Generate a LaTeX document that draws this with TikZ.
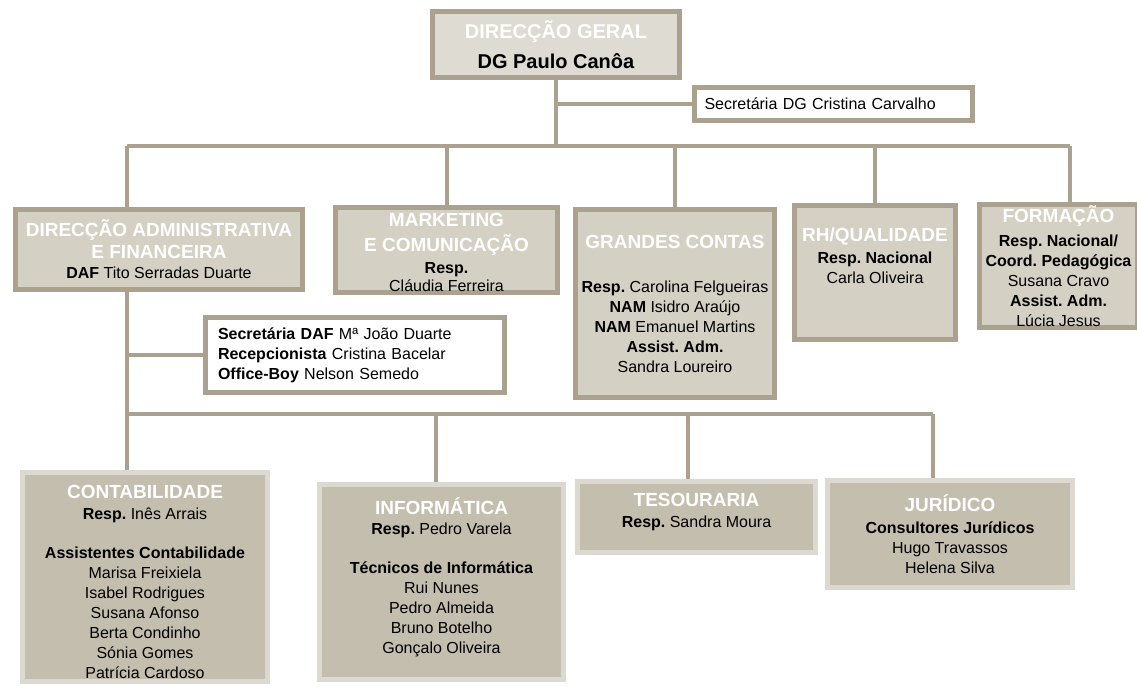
\documentclass[tikz,border=0pt]{standalone}
\usepackage{fontspec}
\setmainfont{Liberation Sans}
\usetikzlibrary{positioning}
\definecolor{linkgray}{HTML}{AAA28F}
\definecolor{topfill}{HTML}{DEDBD3}
\definecolor{deptfill}{HTML}{D4D0C4}
\definecolor{unitfill}{HTML}{C4BEAF}
\definecolor{unitline}{HTML}{DCD9D0}
\newcommand{\hd}[1]{{\fontsize{19}{23}\selectfont\bfseries\color{white}#1}}
\frenchspacing

\begin{document}
\begin{tikzpicture}[x=1pt, y=-1pt,
  every node/.style={font=\fontsize{16}{20}\selectfont, align=center, inner sep=0pt},
  topbox/.style={draw=linkgray, line width=5pt, fill=topfill},
  deptbox/.style={draw=linkgray, line width=5pt, fill=deptfill},
  secbox/.style={draw=linkgray, line width=5pt, fill=white, align=left},
  unitbox/.style={draw=unitline, line width=5pt, fill=unitfill},
  link/.style={draw=linkgray, line width=4pt}]
  \useasboundingbox (0,0) rectangle (1137,687);

  % direction
  \node (dg) [topbox, minimum width=247pt, minimum height=66pt,
    font=\fontsize{20}{27}\selectfont] at (556,44.5)
    {{\bfseries\color{white}DIRECÇÃO GERAL}\\[3pt] \textbf{DG Paulo Canôa}};
  \node (secdg) [secbox, minimum width=278pt, minimum height=33pt,
    text width=258pt] at (833.5,104) {Secretária DG Cristina Carvalho};

  % departments
  \node (daf) [deptbox, minimum width=287pt, minimum height=80pt] at (159,249.5)
    {\hd{DIRECÇÃO ADMINISTRATIVA}\\[2pt] \hd{E FINANCEIRA}\\ \textbf{DAF} Tito Serradas Duarte};
  \node (mkt) [deptbox, minimum width=222pt, minimum height=85pt] at (446.5,250) {};
  \node (mkttext) [below=8pt of mkt.north]
    {\hd{MARKETING}\\[5pt] \hd{E COMUNICAÇÃO}\\[2pt] \textbf{Resp.}\\[-2pt] Cláudia Ferreira};
  \node (gc) [deptbox, minimum width=199pt, minimum height=188pt] at (675,303.5)
    {\hd{GRANDES CONTAS}\\[24pt] \textbf{Resp.} Carolina Felgueiras\\ \textbf{NAM} Isidro Araújo\\
     \textbf{NAM} Emanuel Martins\\ \textbf{Assist. Adm.}\\ Sandra Loureiro};
  \node (rh) [deptbox, minimum width=161pt, minimum height=134pt] at (875,272.5) {};
  \node (rhtext) [below=25pt of rh.north]
    {\hd{RH/QUALIDADE}\\[2pt] \textbf{Resp. Nacional}\\ Carla Oliveira};
  \node (form) [deptbox, minimum width=158pt, minimum height=123pt] at (1058.5,266)
    {\hd{FORMAÇÃO}\\[4pt] \textbf{Resp. Nacional/}\\ \textbf{Coord. Pedagógica}\\ Susana Cravo\\
     \textbf{Assist. Adm.}\\ Lúcia Jesus};

  % DAF staff
  \node (secdaf) [secbox, minimum width=299pt, minimum height=75pt, text width=274pt] at (355,355)
    {\textbf{Secretária DAF} Mª João Duarte\\ \textbf{Recepcionista} Cristina Bacelar\\
     \textbf{Office-Boy} Nelson Semedo};

  % units
  \node (cont) [unitbox, minimum width=245pt, minimum height=209pt] at (145,577) {};
  \node (conttext) [below=15.5pt of cont.north]
    {\hd{CONTABILIDADE}\\[1pt] \textbf{Resp.} Inês Arrais\\[19pt] \textbf{Assistentes Contabilidade}\\
     Marisa Freixiela\\ Isabel Rodrigues\\ Susana Afonso\\ Berta Condinho\\ Sónia Gomes\\ Patrícia Cardoso};
  \node (inf) [unitbox, minimum width=244pt, minimum height=195pt] at (441.5,582) {};
  \node (inftext) [below=15.5pt of inf.north]
    {\hd{INFORMÁTICA}\\ \textbf{Resp.} Pedro Varela\\[19pt] \textbf{Técnicos de Informática}\\
     Rui Nunes\\ Pedro Almeida\\ Bruno Botelho\\ Gonçalo Oliveira};
  \node (tes) [unitbox, minimum width=238pt, minimum height=71pt] at (696.5,517) {};
  \node (testext) [below=14pt of tes.north]
    {\hd{TESOURARIA}\\[1pt] \textbf{Resp.} Sandra Moura};
  \node (jur) [unitbox, minimum width=245pt, minimum height=107pt] at (950,534)
    {\hd{JURÍDICO}\\[2pt] \textbf{Consultores Jurídicos}\\ Hugo Travassos\\ Helena Silva};

  % upper links
  \coordinate (barL) at (127,146);
  \coordinate (barR) at (1070,146);
  \draw[link] (dg.south) -- (dg.south |- barL);
  \draw[link] (dg.south |- secdg.west) -- (secdg.west);
  \draw[link] (barL) -- (barR);
  \draw[link] (barL) -- (barL |- daf.north);
  \draw[link] (mkt.north |- barL) -- (mkt.north);
  \draw[link] (gc.north |- barL) -- (gc.north);
  \draw[link] (rh.north |- barL) -- (rh.north);
  \draw[link] (barR) -- (barR |- form.north);

  % lower links
  \coordinate (lowL) at (127,414);
  \coordinate (lowR) at (933,414);
  \draw[link] (barL |- daf.south) -- (lowL);
  \draw[link] (lowL |- secdaf.west) -- (secdaf.west);
  \draw[link] (lowL) -- (lowR);
  \draw[link] (lowL) -- (lowL |- cont.north);
  \draw[link] ([xshift=-6pt]inf.north |- lowL) -- ([xshift=-6pt]inf.north);
  \draw[link] ([xshift=-9pt]tes.north |- lowL) -- ([xshift=-9pt]tes.north);
  \draw[link] (lowR) -- (lowR |- jur.north);
\end{tikzpicture}
\end{document}
